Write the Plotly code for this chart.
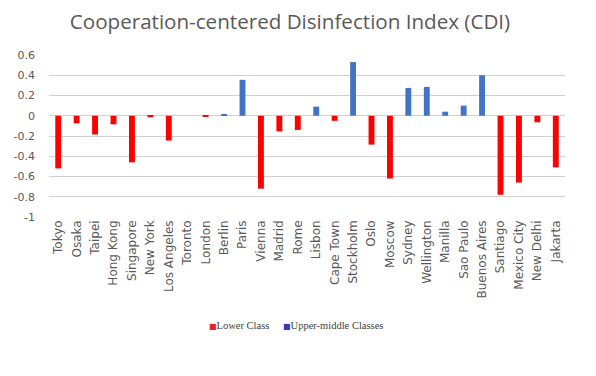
import plotly.graph_objects as go

cities = ["Tokyo", "Osaka", "Taipei", "Hong Kong", "Singapore", "New York", "Los Angeles",
          "Toronto", "London", "Berlin", "Paris", "Vienna", "Madrid", "Rome", "Lisbon",
          "Cape Town", "Stockholm", "Oslo", "Moscow", "Sydney", "Wellington", "Manilla",
          "Sao Paulo", "Buenos Aires", "Santiago", "Mexico City", "New Delhi", "Jakarta"]
lower_class = [-0.52, -0.075, -0.185, -0.085, -0.46, -0.015, -0.245,
               0.0, -0.003, None, None, -0.72, -0.155, -0.14, None,
               -0.05, None, -0.285, -0.62, None, None, None,
               None, None, -0.78, -0.66, -0.065, -0.51]
upper_middle = [None, None, None, None, None, None, None,
                None, None, 0.01, 0.355, None, None, None, 0.09,
                None, 0.53, None, None, 0.275, 0.285, 0.04,
                0.10, 0.40, None, None, None, None]
y_ticks = [-1, -0.8, -0.6, -0.4, -0.2, 0, 0.2, 0.4, 0.6]
y_tick_labels = ["-1", "-0.8", "-0.6", "-0.4", "-0.2", "0", "0.2", "0.4", "0.6"]
series_names = ["Lower Class", "Upper-middle Classes"]
series_colors = ["#FF0000", "#4472C4"]
legend_key_colors = ["#E8202A", "#3A3AB8"]

# page has an 8px body margin; figure is sized/offset to compensate
W, H = 588, 368

fig = go.Figure()
for vals, name, col in zip([lower_class, upper_middle], series_names, series_colors):
    fig.add_trace(go.Bar(x=cities, y=vals, name=name,
                         marker=dict(color=col, line=dict(width=0))))

# compact legend like the original (small key square directly before the text)
legend_x = [0.306, 0.4496]
for name, kc, lx in zip(series_names, legend_key_colors, legend_x):
    fig.add_annotation(
        text=f"<span style='color:{kc};font-family:DejaVu Sans;font-size:8px'>■</span>{name}",
        xref="paper", yref="paper", x=lx, y=-0.67, xanchor="left", yanchor="middle",
        showarrow=False, font=dict(family="Liberation Serif", size=10.5, color="#404040"))

fig.update_layout(
    width=W, height=H,
    barmode="overlay", bargap=0.68,
    paper_bgcolor="white", plot_bgcolor="white",
    margin=dict(l=41, r=31, t=47, b=159, autoexpand=False),
    title=dict(text="Cooperation-centered Disinfection Index (CDI)",
               x=282 / W, xanchor="center", xref="container",
               y=1 - 14 / H, yanchor="middle", yref="container",
               font=dict(family="Open Sans", size=20.6, color="#595959")),
    xaxis=dict(tickangle=-90, tickfont=dict(family="DejaVu Sans", size=12, color="#595959"),
               tickmode="array", tickvals=cities, ticktext=cities,
               showgrid=False, showline=False, ticks="", ticklen=0, automargin=False),
    yaxis=dict(range=[-1, 0.6], tickvals=y_ticks, ticktext=y_tick_labels,
               tickfont=dict(family="DejaVu Sans", size=11, color="#595959"),
               showgrid=True, gridcolor="#D0D0D0", gridwidth=1,
               zeroline=True, zerolinecolor="#D0D0D0", zerolinewidth=1,
               showline=False, ticks="", ticklabelstandoff=13, automargin=False),
    showlegend=False,
)

fig.write_html("out.html")
